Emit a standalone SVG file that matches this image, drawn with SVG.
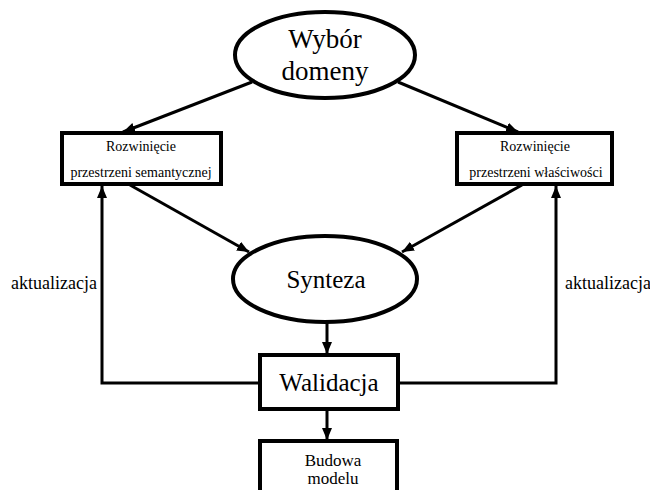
<svg xmlns="http://www.w3.org/2000/svg" width="650" height="490" viewBox="0 0 650 490">
<style>
.shape{fill:#fff;stroke:#000;stroke-width:4}
.conn{fill:none;stroke:#000;stroke-width:3}
text{font-family:"Liberation Serif","Times New Roman",Times,"Noto Serif","DejaVu Serif",FreeSerif,serif;fill:#000;text-anchor:middle}
.big{font-size:27px}
.mid{font-size:25px}
.sm{font-size:14px}
.lab{font-size:18px}
.bm{font-size:17px}
</style>
<defs>
<marker id="ah" markerUnits="userSpaceOnUse" markerWidth="14" markerHeight="12" refX="12" refY="5" orient="auto">
<path d="M0,0 L12,5 L0,10 z" fill="#000"/>
</marker>
</defs>
<g id="connectors">
<line class="conn" x1="252" y1="82" x2="123" y2="132" marker-end="url(#ah)"/>
<line class="conn" x1="398" y1="82" x2="518" y2="132" marker-end="url(#ah)"/>
<line class="conn" x1="130" y1="185" x2="249" y2="252" marker-end="url(#ah)"/>
<line class="conn" x1="522" y1="185" x2="402" y2="252" marker-end="url(#ah)"/>
<line class="conn" x1="327" y1="322" x2="327" y2="354" marker-end="url(#ah)"/>
<line class="conn" x1="327" y1="409" x2="327" y2="440" marker-end="url(#ah)"/>
<polyline class="conn" points="260,383 102,383 102,186" marker-end="url(#ah)"/>
<polyline class="conn" points="398,383 556,383 556,186" marker-end="url(#ah)"/>
<text class="lab" x="54" y="289">aktualizacja</text>
<text class="lab" x="608" y="289">aktualizacja</text>
</g>
<g id="wybor">
<ellipse class="shape" cx="325" cy="55" rx="90" ry="43"/>
<text class="big" x="325" y="48">Wybór</text>
<text class="big" x="325" y="80">domeny</text>
</g>
<g id="sem">
<rect class="shape" x="62" y="133" width="159" height="51"/>
<text class="sm" x="141" y="151">Rozwinięcie</text>
<text class="sm" x="141" y="177">przestrzeni semantycznej</text>
</g>
<g id="wlas">
<rect class="shape" x="457" y="133" width="155" height="51"/>
<text class="sm" x="535" y="151">Rozwinięcie</text>
<text class="sm" x="536" y="177">przestrzeni właściwości</text>
</g>
<g id="synteza">
<ellipse class="shape" cx="325" cy="279" rx="92" ry="43"/>
<text class="mid" x="326" y="288">Synteza</text>
</g>
<g id="walidacja">
<rect class="shape" x="260" y="355" width="138" height="54"/>
<text class="mid" x="329" y="391">Walidacja</text>
</g>
<g id="budowa">
<rect class="shape" x="260" y="441" width="137" height="60"/>
<text class="bm" x="333" y="466">Budowa</text>
<text class="bm" x="333" y="484">modelu</text>
</g>
</svg>
